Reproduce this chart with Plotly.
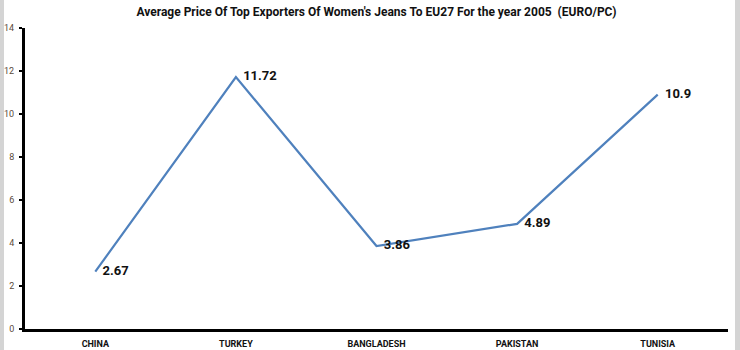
import plotly.graph_objects as go

countries = ["CHINA", "TURKEY", "BANGLADESH", "PAKISTAN", "TUNISIA"]
avg_price = [2.67, 11.72, 3.86, 4.89, 10.9]
y_ticks = [0, 2, 4, 6, 8, 10, 12, 14]

W, H = 740, 350
ML, MR, MT, MB = 25, 12, 28, 21
plot_w = W - ML - MR
plot_h = H - MT - MB

font_family = "Liberation Sans Narrow, Roboto, Arial, sans-serif"

fig = go.Figure()
fig.add_trace(go.Scatter(
    x=countries,
    y=avg_price,
    mode="lines+markers+text",
    line=dict(color="#4F81BD", width=2.2),
    marker=dict(size=10, color="rgba(0,0,0,0)"),
    text=[f"{v:g}" for v in avg_price],
    textposition="middle right",
    textfont=dict(family=font_family, size=13, color="#111111", weight="bold"),
    cliponaxis=False,
    hoverinfo="skip",
))

# white page panel over a grey background leaves narrow grey edges
fig.add_shape(type="rect", xref="paper", yref="paper",
              xsizemode="pixel", xanchor=0, x0=-ML + 4, x1=plot_w + MR - 5,
              ysizemode="pixel", yanchor=0, y0=-MB - 2, y1=plot_h + MT + 2,
              fillcolor="white", line=dict(width=0), layer="below")

fig.update_layout(
    width=W, height=H,
    margin=dict(l=ML, r=MR, t=MT, b=MB, autoexpand=False),
    paper_bgcolor="#D4D4D4",
    plot_bgcolor="rgba(0,0,0,0)",
    showlegend=False,
    title=dict(
        text="Average Price Of Top Exporters Of Women's Jeans To EU27 For the year 2005  (EURO/PC)",
        x=0.5, xref="paper", xanchor="center",
        y=1 - 12 / H, yanchor="middle",
        font=dict(family=font_family, size=12, color="#111111", weight="bold"),
    ),
    xaxis=dict(
        type="category",
        range=[-0.5, 4.5],
        automargin=False,
        showline=True, linecolor="#000000", linewidth=3,
        showgrid=False, zeroline=False, ticks="",
        ticklabelstandoff=4,
        tickfont=dict(family=font_family, size=9, color="#111111", weight="bold"),
        fixedrange=True,
    ),
    yaxis=dict(
        range=[0, 14],
        automargin=False,
        tickvals=y_ticks,
        showline=True, linecolor="#000000", linewidth=3,
        showgrid=False, zeroline=False,
        ticks="outside", ticklen=3, tickwidth=2, tickcolor="#000000",
        ticklabelstandoff=3,
        tickfont=dict(family=font_family, size=9, color="#5A4A3A"),
        fixedrange=True,
    ),
)

fig.write_html("out.html")
